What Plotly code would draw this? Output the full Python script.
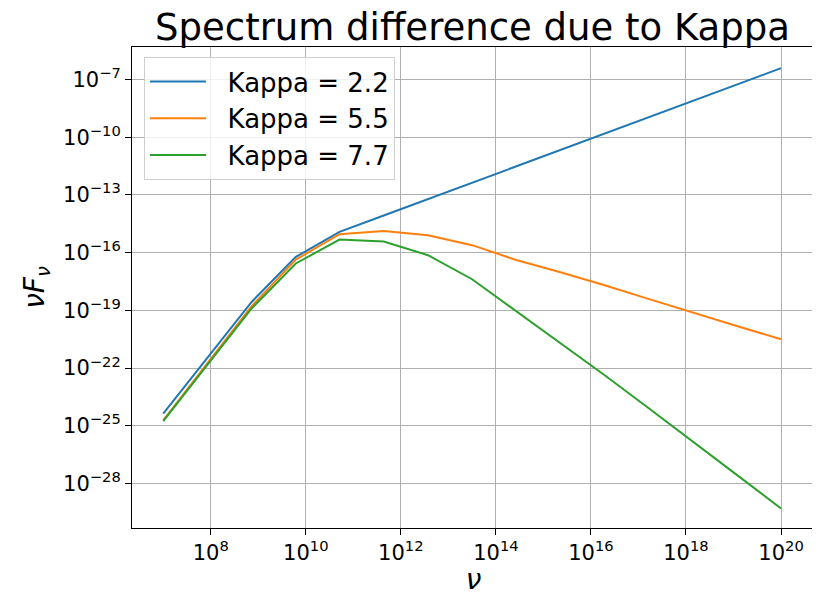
import plotly.graph_objects as go

# Frequencies (log10 nu)
log_nu = [7.0, 7.93, 8.86, 9.79, 10.71, 11.64, 12.57, 13.5, 14.43, 15.36, 16.29, 17.21, 18.14, 19.07, 20.0]
# log10(nu F_nu) for each kappa
kappa_22 = [-24.36, -21.46, -18.56, -16.22, -14.92, -14.07, -13.22, -12.37, -11.52, -10.67, -9.81, -8.97, -8.12, -7.27, -6.41]
kappa_55 = [-24.71, -21.74, -18.78, -16.36, -15.04, -14.87, -15.09, -15.61, -16.38, -17.02, -17.69, -18.40, -19.12, -19.81, -20.50]
kappa_77 = [-24.75, -21.80, -18.90, -16.56, -15.32, -15.42, -16.13, -17.38, -19.03, -20.69, -22.37, -24.07, -25.79, -27.55, -29.30]
labels = ["Kappa = 2.2", "Kappa = 5.5", "Kappa = 7.7"]
colors = ["#1f77b4", "#ff7f0e", "#2ca02c"]

x_tick_exp = [8, 10, 12, 14, 16, 18, 20]
y_tick_exp = [-7, -10, -13, -16, -19, -22, -25, -28]

nu = [10.0 ** v for v in log_nu]
fig = go.Figure()
for lab, col, series in zip(labels, colors, [kappa_22, kappa_55, kappa_77]):
    fig.add_trace(go.Scatter(x=nu, y=[10.0 ** v for v in series], mode="lines",
                             name="\u00a0\u00a0" + lab,
                             line=dict(color=col, width=2)))

def fmt(e):
    s = str(e).replace("-", "\u2212")
    return "10<sup>" + s + "</sup>"

FONT = "DejaVu Sans"
axis_common = dict(type="log", showline=True, linecolor="black", linewidth=1, mirror=True,
                   showgrid=True, gridcolor="#b0b0b0", gridwidth=1, ticks="outside",
                   ticklen=6, tickcolor="black", zeroline=False, automargin=False,
                   tickfont=dict(family=FONT, size=21, color="black"))

# page body has an 8px default margin, so the figure is sized/offset to compensate
W, H = 812, 588
fig.update_layout(
    width=W, height=H,
    margin=dict(l=124, r=5, t=39, b=68),
    paper_bgcolor="white", plot_bgcolor="white",
    font=dict(family=FONT, color="black"),
    title=dict(text="Spectrum difference due to Kappa", x=464.5 / W, xanchor="center",
               y=1 - 19 / H, yanchor="middle", yref="container",
               font=dict(family=FONT, size=37, color="black")),
    xaxis=dict(axis_common, range=[6.343, 20.715],
               tickvals=[10.0 ** e for e in x_tick_exp], ticktext=[fmt(e) for e in x_tick_exp],
               title=dict(text="<i>\u03bd</i>", font=dict(family=FONT, size=28), standoff=2)),
    yaxis=dict(axis_common, range=[-30.31, -5.31],
               tickvals=[10.0 ** e for e in y_tick_exp], ticktext=[fmt(e) for e in y_tick_exp],
               title=dict(text="<i>\u03bdF</i><sub><i>\u03bd</i></sub>", font=dict(family=FONT, size=28), standoff=10)),
    legend=dict(x=0.0176, y=0.979, xanchor="left", yanchor="top",
                bgcolor="rgba(255,255,255,0.8)", bordercolor="#d0d0d0", borderwidth=1,
                font=dict(family=FONT, size=26, color="black"), itemwidth=56),
    showlegend=True,
)

fig.write_html("out.html")
